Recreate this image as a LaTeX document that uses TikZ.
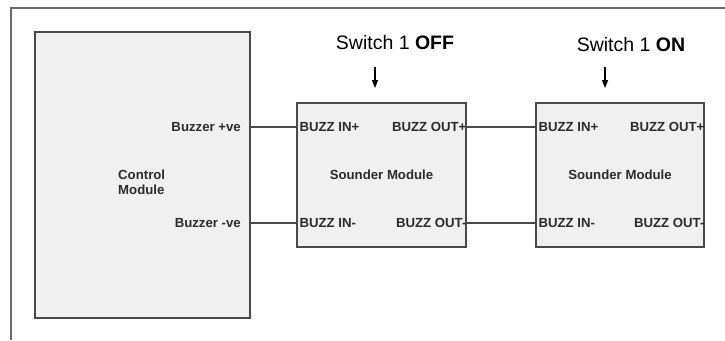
\documentclass[tikz,border=0pt]{standalone}
\usepackage{fontspec}
\setmainfont{Liberation Sans}
\usepackage{xcolor}
\usepackage{tikz}
\usetikzlibrary{arrows.meta,positioning,calc}
\definecolor{smink}{HTML}{000000}
\definecolor{smlabel}{HTML}{2B2B2B}
\definecolor{smpanel}{HTML}{F0F0F0}
\definecolor{smline}{HTML}{4A4A4A}
\definecolor{smframe}{HTML}{6A6A6A}
\tikzset{
  module/.style={rectangle,draw=smline,line width=1.3pt,fill=smpanel,
                 inner sep=0pt},
  pinlbl/.style={inner sep=0pt,font=\fontsize{13.2}{15}\selectfont\bfseries,
                 text=smlabel},
  swlbl/.style={inner sep=0pt,font=\fontsize{19.5}{22}\selectfont,text=smink},
  wire/.style={line width=1.2pt,draw=smline},
  pointer/.style={-{Triangle[length=8pt,width=6pt]},line width=1.3pt,draw=smink},
}
\begin{document}
\begin{tikzpicture}[x=1pt,y=-1pt]
\useasboundingbox (0,0) rectangle (725,340);
% outer frame (cropped)
\draw[smframe,line width=1.2pt] (11,340) -- (11,8) -- (725,8);

% modules
\node[module,minimum width=215pt,minimum height=286pt] (ctrl) at (142.5,175) {};
\node[module,minimum width=169pt,minimum height=144pt] (snd1) at (381.5,175) {};
\node[module,minimum width=168pt,minimum height=144pt] (snd2) at (620,175) {};

% control module labels
\node[pinlbl,align=left,anchor=west] (ctrlname) at (118,182.5) {Control\\Module};
\node[pinlbl,anchor=east] (bzp) at (241,127) {Buzzer +ve};
\node[pinlbl,anchor=east] (bzn) at (241,223) {Buzzer -ve};

% sounder 1
\node[pinlbl] (snd1name) at (snd1) {Sounder Module};
\node[pinlbl,anchor=west] (in1p) at ($(snd1.west)+(3,-48)$) {BUZZ IN+};
\node[pinlbl,anchor=west] (in1n) at ($(snd1.west)+(3,48)$) {BUZZ IN-};
\node[pinlbl,anchor=east] (out1p) at ($(snd1.east)+(0,-48)$) {BUZZ OUT+};
\node[pinlbl,anchor=east] (out1n) at ($(snd1.east)+(0,48)$) {BUZZ OUT-};

% sounder 2
\node[pinlbl] (snd2name) at (snd2) {Sounder Module};
\node[pinlbl,anchor=west] (in2p) at ($(snd2.west)+(3,-48)$) {BUZZ IN+};
\node[pinlbl,anchor=west] (in2n) at ($(snd2.west)+(3,48)$) {BUZZ IN-};
\node[pinlbl,anchor=east] (out2p) at ($(snd2.east)+(0,-48)$) {BUZZ OUT+};
\node[pinlbl,anchor=east] (out2n) at ($(snd2.east)+(0,48)$) {BUZZ OUT-};

% wiring
\draw[wire] (ctrl.east |- bzp) -- (snd1.west |- bzp);
\draw[wire] (ctrl.east |- bzn) -- (snd1.west |- bzn);
\draw[wire] (snd1.east |- out1p) -- (snd2.west |- out1p);
\draw[wire] (snd1.east |- out1n) -- (snd2.west |- out1n);

% switch settings
\node[swlbl] (sw1) at (395,43) {Switch 1 \textbf{OFF}};
\node[swlbl] (sw2) at (631,45) {Switch 1 \textbf{ON}};
\coordinate (sw1top) at (375,67);
\coordinate (sw1tip) at (375,88);
\coordinate (sw2top) at (605,67);
\coordinate (sw2tip) at (605,88);
\draw[pointer] (sw1top) -- (sw1tip);
\draw[pointer] (sw2top) -- (sw2tip);
\end{tikzpicture}
\end{document}
